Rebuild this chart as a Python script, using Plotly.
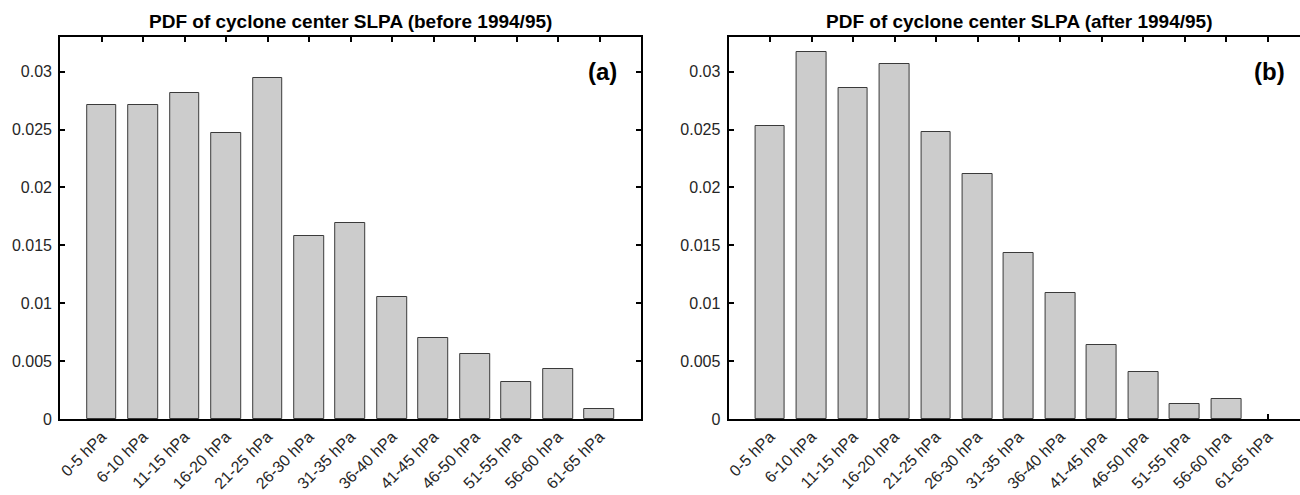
import plotly.graph_objects as go

categories = ["0-5 hPa", "6-10 hPa", "11-15 hPa", "16-20 hPa", "21-25 hPa", "26-30 hPa",
              "31-35 hPa", "36-40 hPa", "41-45 hPa", "46-50 hPa", "51-55 hPa", "56-60 hPa",
              "61-65 hPa"]
pdf_before = [0.0271, 0.0271, 0.0282, 0.0247, 0.0295, 0.0158, 0.0169, 0.0105,
              0.0070, 0.0056, 0.0032, 0.0043, 0.0009]
pdf_after = [0.0253, 0.0317, 0.0286, 0.0307, 0.0248, 0.0212, 0.0143, 0.0109,
             0.0064, 0.0041, 0.0013, 0.0017, 0.0]
ytick_vals = [0, 0.005, 0.01, 0.015, 0.02, 0.025, 0.03]
ytick_text = ["0", "0.005", "0.01", "0.015", "0.02", "0.025", "0.03"]
titles = ["PDF of cyclone center SLPA (before 1994/95)",
          "PDF of cyclone center SLPA (after 1994/95)"]
panel_labels = ["(a)", "(b)"]

W, H = 1300, 495
FONT = "Liberation Sans, Arial, sans-serif"

fig = go.Figure()


def bar_trace(vals, xa, ya):
    widths = [0 if v == 0 else 1 for v in vals]
    return go.Bar(x=categories, y=vals, xaxis=xa, yaxis=ya, width=0.72,
                  marker=dict(color="#cccccc", line=dict(color="#3a3a3a", width=widths)),
                  showlegend=False, hoverinfo="x+y")


fig.add_trace(bar_trace(pdf_before, "x", "y"))
fig.add_trace(bar_trace(pdf_after, "x2", "y2"))

# pixel geometry
a_l, a_r = 58.3, 640.0
b_l = 727.7
unit = (a_r - a_l) / 14.0
b_range_hi = -1 + (W - b_l) / unit

common_x = dict(type="category", showline=True, linecolor="black", linewidth=2,
                mirror="ticks", ticks="inside", ticklen=5, tickwidth=1.5, tickcolor="black",
                tickangle=-45, tickfont=dict(family=FONT, size=16, color="#262626"),
                showgrid=False, zeroline=False, layer="below traces", fixedrange=True)
common_y = dict(range=[0, 0.033], tickvals=ytick_vals, ticktext=ytick_text,
                showline=True, linecolor="black", linewidth=2,
                ticks="inside", ticklen=5, tickwidth=1.5, tickcolor="black",
                ticklabelstandoff=3,
                tickfont=dict(family=FONT, size=16, color="#262626"),
                showgrid=False, zeroline=False, layer="below traces", fixedrange=True)

fig.update_layout(
    width=W, height=H,
    margin=dict(l=0, r=0, t=37, b=76),
    paper_bgcolor="white", plot_bgcolor="white",
    bargap=0,
    xaxis=dict(domain=[a_l / W, a_r / W], range=[-1, 13], anchor="y", **common_x),
    yaxis=dict(anchor="x", mirror="ticks", **common_y),
    xaxis2=dict(domain=[b_l / W, 1.0], range=[-1, b_range_hi], anchor="y2", **common_x),
    yaxis2=dict(anchor="x2", mirror=False, **common_y),
)

centers = [(a_l + a_r) / 2 / W, (b_l + b_l + 14 * unit) / 2 / W]
for i in range(2):
    fig.add_annotation(text="<b>" + titles[i] + "</b>", xref="paper", yref="paper",
                       x=centers[i], y=1.0, yshift=3, xanchor="center", yanchor="bottom",
                       showarrow=False, font=dict(family=FONT, size=19, color="black"))
    right_px = (a_r if i == 0 else b_l + 14 * unit) - 22
    fig.add_annotation(text="<b>" + panel_labels[i] + "</b>", xref="paper", yref="y" if i == 0 else "y2",
                       x=right_px / W, y=0.03, xanchor="right", yanchor="middle",
                       showarrow=False, font=dict(family=FONT, size=24, color="black"))

fig.write_html("out.html")
